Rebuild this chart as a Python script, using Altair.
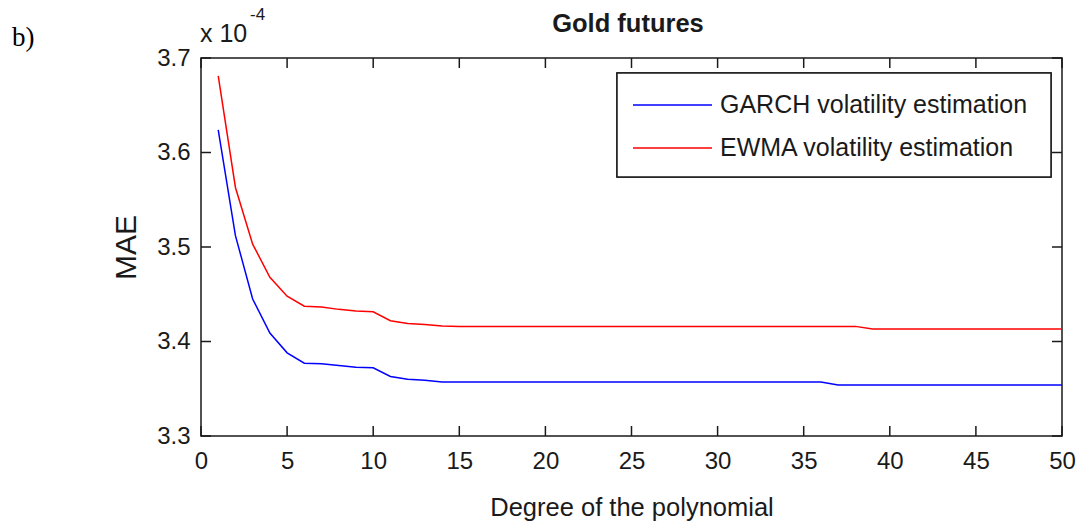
import altair as alt
import pandas as pd

# Degree of the fitted polynomial
degree = list(range(1, 51))

# Mean absolute error (x 1e-4) for each volatility proxy
garch_mae = [3.624, 3.512, 3.445, 3.409, 3.388, 3.377, 3.3765, 3.3745, 3.3728, 3.3722,
             3.3630, 3.3600, 3.3590, 3.3572, 3.3572, 3.3572, 3.3572, 3.3572, 3.3572, 3.3572,
             3.3572, 3.3572, 3.3572, 3.3572, 3.3572, 3.3572, 3.3572, 3.3572, 3.3572, 3.3572,
             3.3572, 3.3572, 3.3572, 3.3572, 3.3572, 3.3572, 3.3540, 3.3540, 3.3540, 3.3540,
             3.3540, 3.3540, 3.3540, 3.3540, 3.3540, 3.3540, 3.3540, 3.3540, 3.3540, 3.3540]
ewma_mae = [3.681, 3.563, 3.503, 3.468, 3.448, 3.4374, 3.4365, 3.4340, 3.4322, 3.4315,
            3.4220, 3.4190, 3.4180, 3.4163, 3.4160, 3.4160, 3.4160, 3.4160, 3.4160, 3.4160,
            3.4160, 3.4160, 3.4160, 3.4160, 3.4160, 3.4160, 3.4160, 3.4160, 3.4160, 3.4160,
            3.4160, 3.4160, 3.4160, 3.4160, 3.4160, 3.4160, 3.4160, 3.4160, 3.4132, 3.4132,
            3.4132, 3.4132, 3.4132, 3.4132, 3.4132, 3.4132, 3.4132, 3.4132, 3.4132, 3.4132]

series_names = ["GARCH volatility estimation", "EWMA volatility estimation"]
series_colors = ["#0000ff", "#ff0000"]

x_ticks = [0, 5, 10, 15, 20, 25, 30, 35, 40, 45, 50]
y_ticks = [3.3, 3.4, 3.5, 3.6, 3.7]

W, H = 861, 378
TICK = 10
SANS = "Liberation Sans"
INK = "#1a1a1a"

df = pd.DataFrame({
    "degree": degree * 2,
    "mae": garch_mae + ewma_mae,
    "series": [series_names[0]] * len(degree) + [series_names[1]] * len(degree),
})
xt = pd.DataFrame({"degree": x_ticks})
yt = pd.DataFrame({"mae": y_ticks})

x_scale = alt.Scale(domain=[0, 50], nice=False, zero=False)
y_scale = alt.Scale(domain=[3.3, 3.7], nice=False, zero=False)
color_scale = alt.Scale(domain=series_names, range=series_colors)

x_axis = alt.Axis(values=x_ticks, ticks=False, domain=False, grid=False,
                  labelFont=SANS, labelFontSize=24, labelColor=INK,
                  labelPadding=13, labelFlush=False,
                  title="Degree of the polynomial", titleFont=SANS,
                  titleFontSize=25.5, titleFontWeight="normal", titleColor=INK,
                  titleBaseline="alphabetic", titleY=79)
y_axis = alt.Axis(values=y_ticks, ticks=False, domain=False, grid=False,
                  format=".1f", labelFont=SANS, labelFontSize=24,
                  labelColor=INK, labelPadding=11, labelFlush=False,
                  title="MAE", titleFont=SANS, titleFontSize=30,
                  titleFontWeight="normal", titleColor=INK,
                  titleBaseline="alphabetic", titleX=-66)

lines = alt.Chart(df).mark_line(strokeWidth=1.5, clip=True).encode(
    x=alt.X("degree:Q", scale=x_scale, axis=x_axis, title="Degree of the polynomial"),
    y=alt.Y("mae:Q", scale=y_scale, axis=y_axis, title="MAE"),
    color=alt.Color("series:N", scale=color_scale, legend=None),
)

# Inward-pointing tick marks on all four sides of the box
tick_style = dict(color=INK, strokeWidth=1.5)
bottom_ticks = alt.Chart(xt).mark_rule(**tick_style).encode(
    x=alt.X("degree:Q", scale=x_scale, title="Degree of the polynomial"),
    y=alt.value(H), y2=alt.value(H - TICK))
top_ticks = alt.Chart(xt).mark_rule(**tick_style).encode(
    x=alt.X("degree:Q", scale=x_scale, title="Degree of the polynomial"),
    y=alt.value(0), y2=alt.value(TICK))
left_ticks = alt.Chart(yt).mark_rule(**tick_style).encode(
    y=alt.Y("mae:Q", scale=y_scale, title="MAE"), x=alt.value(0), x2=alt.value(TICK))
right_ticks = alt.Chart(yt).mark_rule(**tick_style).encode(
    y=alt.Y("mae:Q", scale=y_scale, title="MAE"), x=alt.value(W), x2=alt.value(W - TICK))

# Legend box in the upper right corner
legend_df = pd.DataFrame({"series": series_names})
legend_box = alt.Chart(legend_df).mark_rect(fill="white", stroke=INK, strokeWidth=1.5).encode(
    x=alt.value(416), x2=alt.value(850), y=alt.value(15), y2=alt.value(119))
legend_rows = []
for i, name in enumerate(series_names):
    row_y = 47 + 43 * i
    row = legend_df[legend_df["series"] == name]
    legend_rows.append(alt.Chart(row).mark_rule(strokeWidth=1.5).encode(
        x=alt.value(432), x2=alt.value(511), y=alt.value(row_y),
        color=alt.Color("series:N", scale=color_scale, legend=None)))
    legend_rows.append(alt.Chart(row).mark_text(
        font=SANS, fontSize=25, color=INK, align="left", baseline="middle").encode(
        x=alt.value(519), y=alt.value(row_y), text="series:N"))

# Title, exponent of the y axis and panel letter
note = pd.DataFrame({"t": [""]})
title = alt.Chart(note).mark_text(font=SANS, fontSize=25.5, fontWeight="bold", color=INK,
                                  align="center", baseline="alphabetic").encode(
    x=alt.value(427), y=alt.value(-26), text=alt.value("Gold futures"))
exp_base = alt.Chart(note).mark_text(font=SANS, fontSize=25, color=INK, align="left",
                                     baseline="alphabetic").encode(
    x=alt.value(-1), y=alt.value(-16), text=alt.value("x 10"))
exp_power = alt.Chart(note).mark_text(font=SANS, fontSize=17, color=INK, align="left",
                                      baseline="alphabetic").encode(
    x=alt.value(49), y=alt.value(-38), text=alt.value("-4"))
panel = alt.Chart(note).mark_text(font="Liberation Serif", fontSize=27, color="black",
                                  align="left", baseline="alphabetic").encode(
    x=alt.value(-189), y=alt.value(-12), text=alt.value("b)"))

chart = alt.layer(
    lines, bottom_ticks, top_ticks, left_ticks, right_ticks,
    legend_box, *legend_rows, title, exp_base, exp_power, panel
).properties(
    width=W, height=H,
    background="white",
    autosize=alt.AutoSizeParams(type="none"),
    padding={"left": 201, "top": 58, "right": 17, "bottom": 90},
).configure_view(stroke=INK, strokeWidth=1.5)

chart.save("out.html", embed_options={"renderer": "svg", "actions": False})
